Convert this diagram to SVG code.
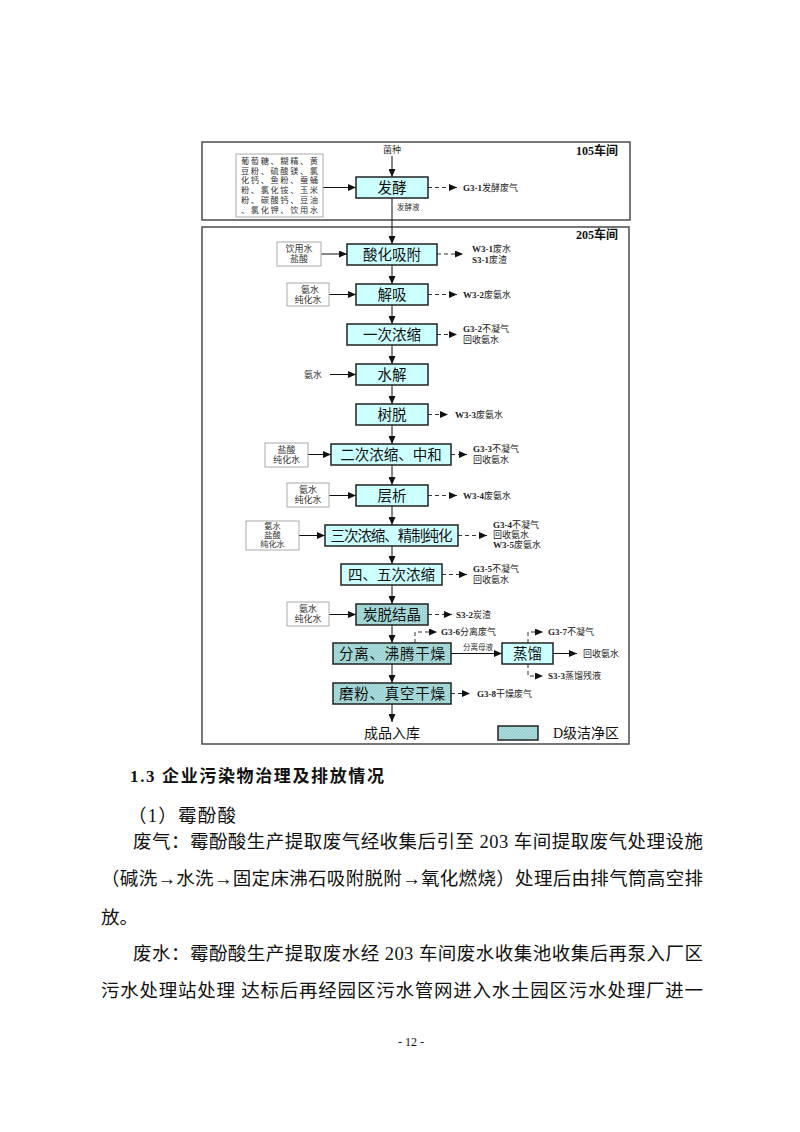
<svg xmlns="http://www.w3.org/2000/svg" width="800" height="1132" viewBox="0 0 800 1132">
<style>
.frame{fill:none;stroke:#555;stroke-width:1.6}
.proc{fill:#ccffff;stroke:#222;stroke-width:1.5}
.hat{fill:url(#hatch);stroke:#222;stroke-width:1.5}
.inp{fill:#fff;stroke:#aaa;stroke-width:1}
.pt{font-family:"Liberation Serif","Noto Sans CJK SC",serif;font-size:14.5px;fill:#111;text-anchor:middle;dominant-baseline:central}
.it{font-family:"Liberation Serif","Noto Sans CJK SC",serif;font-size:9px;fill:#333;text-anchor:middle;dominant-baseline:central}
.rt{font-family:"Liberation Serif","Noto Sans CJK SC",serif;font-size:8.2px;fill:#333;dominant-baseline:central}
.lt{font-family:"Liberation Serif","Noto Sans CJK SC",serif;font-size:9px;fill:#222;dominant-baseline:central}
.lt tspan.b{font-weight:bold}
.st{font-family:"Liberation Serif","Noto Sans CJK SC",serif;font-size:7.5px;fill:#333;dominant-baseline:central}
.ws{font-family:"Liberation Serif","Noto Sans CJK SC",serif;font-size:12px;font-weight:bold;fill:#111;text-anchor:end;dominant-baseline:central}
.big{font-family:"Liberation Serif","Noto Sans CJK SC",serif;font-size:14px;fill:#111;dominant-baseline:central}
.sol{stroke:#111;stroke-width:1;fill:none;marker-end:url(#ah)}
.das{stroke:#333;stroke-width:1;fill:none;stroke-dasharray:4,3;marker-end:url(#ah)}
.body{font-family:"Liberation Serif","Noto Sans CJK SC",serif;font-size:18.5px;fill:#111}
</style>
<defs>
<pattern id="hatch" width="3" height="3" patternUnits="userSpaceOnUse">
<rect width="3" height="3" fill="#abdcdc"/>
<path d="M0,3 L3,0 M-1,1 L1,-1 M2,4 L4,2" stroke="#88c2c2" stroke-width="0.7"/>
</pattern>
<marker id="ah" markerUnits="userSpaceOnUse" markerWidth="8" markerHeight="7" refX="8" refY="3.5" orient="auto">
<path d="M0,0 L8,3.5 L0,7 Z" fill="#111"/>
</marker>
</defs>

<g id="workshop105">
<rect class="frame" x="202" y="142" width="428" height="78"/>
<text class="ws" x="618" y="151">105车间</text>
</g>
<g id="workshop205">
<rect class="frame" x="202" y="227" width="427" height="517"/>
<text class="ws" x="618" y="235">205车间</text>
</g>

<g id="connectors">
<line class="sol" x1="392" y1="156" x2="392" y2="177"/>
<line class="sol" x1="392" y1="198" x2="392" y2="244"/>
<line class="sol" x1="392" y1="265" x2="392" y2="284"/>
<line class="sol" x1="392" y1="305" x2="392" y2="324"/>
<line class="sol" x1="392" y1="345" x2="392" y2="364"/>
<line class="sol" x1="392" y1="385" x2="392" y2="404"/>
<line class="sol" x1="392" y1="425" x2="392" y2="444"/>
<line class="sol" x1="392" y1="465" x2="392" y2="485"/>
<line class="sol" x1="392" y1="506" x2="392" y2="525"/>
<line class="sol" x1="392" y1="546" x2="392" y2="564"/>
<line class="sol" x1="392" y1="585" x2="392" y2="604"/>
<line class="sol" x1="392" y1="625" x2="392" y2="643"/>
<line class="sol" x1="392" y1="664" x2="392" y2="683"/>
<line class="sol" x1="392" y1="704" x2="392" y2="722"/>
<line class="sol" x1="323" y1="187.5" x2="356" y2="187.5"/>
<line class="sol" x1="321" y1="254" x2="347" y2="254"/>
<line class="sol" x1="329" y1="294.5" x2="356" y2="294.5"/>
<line class="sol" x1="330" y1="374.5" x2="356" y2="374.5"/>
<line class="sol" x1="308" y1="454.5" x2="331" y2="454.5"/>
<line class="sol" x1="329" y1="495.5" x2="356" y2="495.5"/>
<line class="sol" x1="299" y1="535.5" x2="325" y2="535.5"/>
<line class="sol" x1="329" y1="614.5" x2="356" y2="614.5"/>
<line class="das" x1="428" y1="187.5" x2="457" y2="187.5"/>
<line class="das" x1="437" y1="254" x2="463" y2="254"/>
<line class="das" x1="428" y1="294.5" x2="457" y2="294.5"/>
<line class="das" x1="437" y1="334.5" x2="457" y2="334.5"/>
<line class="das" x1="428" y1="414.5" x2="448" y2="414.5"/>
<line class="das" x1="451" y1="454.5" x2="467" y2="454.5"/>
<line class="das" x1="428" y1="495.5" x2="457" y2="495.5"/>
<line class="das" x1="458" y1="535.5" x2="487" y2="535.5"/>
<line class="das" x1="442" y1="574.5" x2="467" y2="574.5"/>
<line class="das" x1="428" y1="614.5" x2="452" y2="614.5"/>
<polyline class="das" points="415,643 415,632 437,632"/>
<line class="sol" x1="451" y1="653.5" x2="502" y2="653.5"/>
<polyline class="das" points="528,643 528,632 543,632"/>
<line class="sol" x1="553" y1="653.5" x2="577" y2="653.5"/>
<polyline class="das" points="528,664 528,676 543,676"/>
<line class="das" x1="451" y1="693.5" x2="470" y2="693.5"/>
</g>

<g id="n-junzhong"><text class="it" x="392" y="150">菌种</text></g>
<g id="n-raw">
<rect class="inp" x="236" y="154" width="87" height="63"/>
<text class="rt" x="241" y="161.5" textLength="77" lengthAdjust="spacing">葡萄糖、糊精、黄</text>
<text class="rt" x="241" y="171.2" textLength="77" lengthAdjust="spacing">豆粉、硫酸镁、氯</text>
<text class="rt" x="241" y="180.9" textLength="77" lengthAdjust="spacing">化钙、鱼粉、蚕蛹</text>
<text class="rt" x="241" y="190.6" textLength="77" lengthAdjust="spacing">粉、氯化铵、玉米</text>
<text class="rt" x="241" y="200.3" textLength="77" lengthAdjust="spacing">粉、碳酸钙、豆油</text>
<text class="rt" x="241" y="210" textLength="77" lengthAdjust="spacing">、氯化钾、饮用水</text>
</g>
<g id="n-fajiao">
<rect class="proc" x="356" y="177" width="72" height="21"/>
<text class="pt" x="392" y="187.5">发酵</text>
<text class="lt" x="463" y="188"><tspan class="b">G3-1</tspan>发酵废气</text>
<text class="st" x="397" y="207">发酵液</text>
</g>

<g id="n-suanhua">
<rect class="inp" x="277" y="242" width="44" height="24"/>
<text class="it" x="299" y="249">饮用水</text>
<text class="it" x="299" y="259">盐酸</text>
<rect class="proc" x="347" y="244" width="90" height="21"/>
<text class="pt" x="392" y="254.5">酸化吸附</text>
<text class="lt" x="472" y="249"><tspan class="b">W3-1</tspan>废水</text>
<text class="lt" x="472" y="259.5"><tspan class="b">S3-1</tspan>废渣</text>
</g>

<g id="n-jiexi">
<rect class="inp" x="287" y="283" width="42" height="23"/>
<text class="it" x="310" y="289.5">氨水</text>
<text class="it" x="308" y="299.5">纯化水</text>
<rect class="proc" x="356" y="284" width="72" height="21"/>
<text class="pt" x="392" y="294.5">解吸</text>
<text class="lt" x="463" y="294.5"><tspan class="b">W3-2</tspan>废氨水</text>
</g>

<g id="n-yici">
<rect class="proc" x="347" y="324" width="90" height="21"/>
<text class="pt" x="392" y="334.5">一次浓缩</text>
<text class="lt" x="463" y="329"><tspan class="b">G3-2</tspan>不凝气</text>
<text class="lt" x="463" y="340">回收氨水</text>
</g>

<g id="n-shuijie">
<text class="it" x="313" y="374.5">氨水</text>
<rect class="proc" x="356" y="364" width="72" height="21"/>
<text class="pt" x="392" y="374.5">水解</text>
</g>

<g id="n-shutuo">
<rect class="proc" x="356" y="404" width="72" height="21"/>
<text class="pt" x="392" y="414.5">树脱</text>
<text class="lt" x="455" y="414.5"><tspan class="b">W3-3</tspan>废氨水</text>
</g>

<g id="n-erci">
<rect class="inp" x="265" y="443" width="43" height="24"/>
<text class="it" x="286.5" y="450">盐酸</text>
<text class="it" x="286.5" y="460">纯化水</text>
<rect class="proc" x="331" y="444" width="120" height="21"/>
<text class="pt" x="391" y="454.5">二次浓缩、中和</text>
<text class="lt" x="473" y="449"><tspan class="b">G3-3</tspan>不凝气</text>
<text class="lt" x="473" y="460">回收氨水</text>
</g>

<g id="n-cengxi">
<rect class="inp" x="287" y="483" width="42" height="24"/>
<text class="it" x="308" y="490">氨水</text>
<text class="it" x="308" y="500">纯化水</text>
<rect class="proc" x="356" y="485" width="72" height="21"/>
<text class="pt" x="392" y="495.5">层析</text>
<text class="lt" x="463" y="495.5"><tspan class="b">W3-4</tspan>废氨水</text>
</g>

<g id="n-sanci">
<rect class="inp" x="246" y="521" width="53" height="29"/>
<text class="rt" x="272.5" y="526.8" text-anchor="middle">氨水</text>
<text class="rt" x="272.5" y="535.5" text-anchor="middle">盐酸</text>
<text class="rt" x="272.5" y="544.2" text-anchor="middle">纯化水</text>
<rect class="proc" x="325" y="525" width="133" height="21"/>
<text class="pt" x="391.5" y="535.5" textLength="122" lengthAdjust="spacing">三次浓缩、精制纯化</text>
<text class="lt" x="493" y="525"><tspan class="b">G3-4</tspan>不凝气</text>
<text class="lt" x="493" y="535">回收氨水</text>
<text class="lt" x="493" y="545"><tspan class="b">W3-5</tspan>废氨水</text>
</g>

<g id="n-siwu">
<rect class="proc" x="341" y="564" width="101" height="21"/>
<text class="pt" x="391.5" y="574.5">四、五次浓缩</text>
<text class="lt" x="473" y="569"><tspan class="b">G3-5</tspan>不凝气</text>
<text class="lt" x="473" y="580">回收氨水</text>
</g>

<g id="n-tantuo">
<rect class="inp" x="287" y="602" width="42" height="24"/>
<text class="it" x="308" y="609">氨水</text>
<text class="it" x="308" y="619">纯化水</text>
<rect class="hat" x="356" y="604" width="72" height="21"/>
<text class="pt" x="392" y="614.5">炭脱结晶</text>
<text class="lt" x="456" y="614.5"><tspan class="b">S3-2</tspan>炭渣</text>
</g>

<g id="n-fenli">
<rect class="hat" x="333" y="643" width="118" height="21"/>
<text class="pt" x="392" y="653.5" textLength="106" lengthAdjust="spacing">分离、沸腾干燥</text>
<text class="lt" x="441" y="632"><tspan class="b">G3-6</tspan>分离废气</text>
<text class="st" x="478" y="647" text-anchor="middle">分离母液</text>
</g>

<g id="n-zhengliu">
<rect class="proc" x="502" y="643" width="51" height="21"/>
<text class="pt" x="527.5" y="653.5">蒸馏</text>
<text class="lt" x="548" y="632"><tspan class="b">G3-7</tspan>不凝气</text>
<text class="lt" x="583" y="654">回收氨水</text>
<text class="lt" x="548" y="676"><tspan class="b">S3-3</tspan>蒸馏残液</text>
</g>

<g id="n-mofen">
<rect class="hat" x="333" y="683" width="118" height="21"/>
<text class="pt" x="392" y="693.5" textLength="106" lengthAdjust="spacing">磨粉、真空干燥</text>
<text class="lt" x="477" y="694"><tspan class="b">G3-8</tspan>干燥废气</text>
</g>

<g id="n-product">
<text class="big" x="392" y="733" text-anchor="middle">成品入库</text>
</g>

<g id="legend">
<rect class="hat" x="498" y="726" width="40" height="14"/>
<text class="big" x="553" y="733">D级洁净区</text>
</g>

<g id="page-text">
<text x="130" y="782" font-family="Liberation Serif,Noto Sans CJK SC,serif" font-size="17" font-weight="bold" fill="#111" textLength="254" lengthAdjust="spacing">1.3 企业污染物治理及排放情况</text>
<text class="body" x="128" y="822" textLength="108" lengthAdjust="spacing">（1）霉酚酸</text>
<text class="body" x="133" y="848" textLength="570" lengthAdjust="spacing">废气：霉酚酸生产提取废气经收集后引至 203 车间提取废气处理设施</text>
<text class="body" x="101" y="885" textLength="602" lengthAdjust="spacing">（碱洗→水洗→固定床沸石吸附脱附→氧化燃烧）处理后由排气筒高空排</text>
<text class="body" x="101" y="924">放。</text>
<text class="body" x="133" y="960" textLength="570" lengthAdjust="spacing">废水：霉酚酸生产提取废水经 203 车间废水收集池收集后再泵入厂区</text>
<text class="body" x="101" y="997" textLength="602" lengthAdjust="spacing">污水处理站处理 达标后再经园区污水管网进入水土园区污水处理厂进一</text>
<text x="411" y="1046" font-family="Liberation Serif,serif" font-size="12" fill="#111" text-anchor="middle">- 12 -</text>
</g>
</svg>
